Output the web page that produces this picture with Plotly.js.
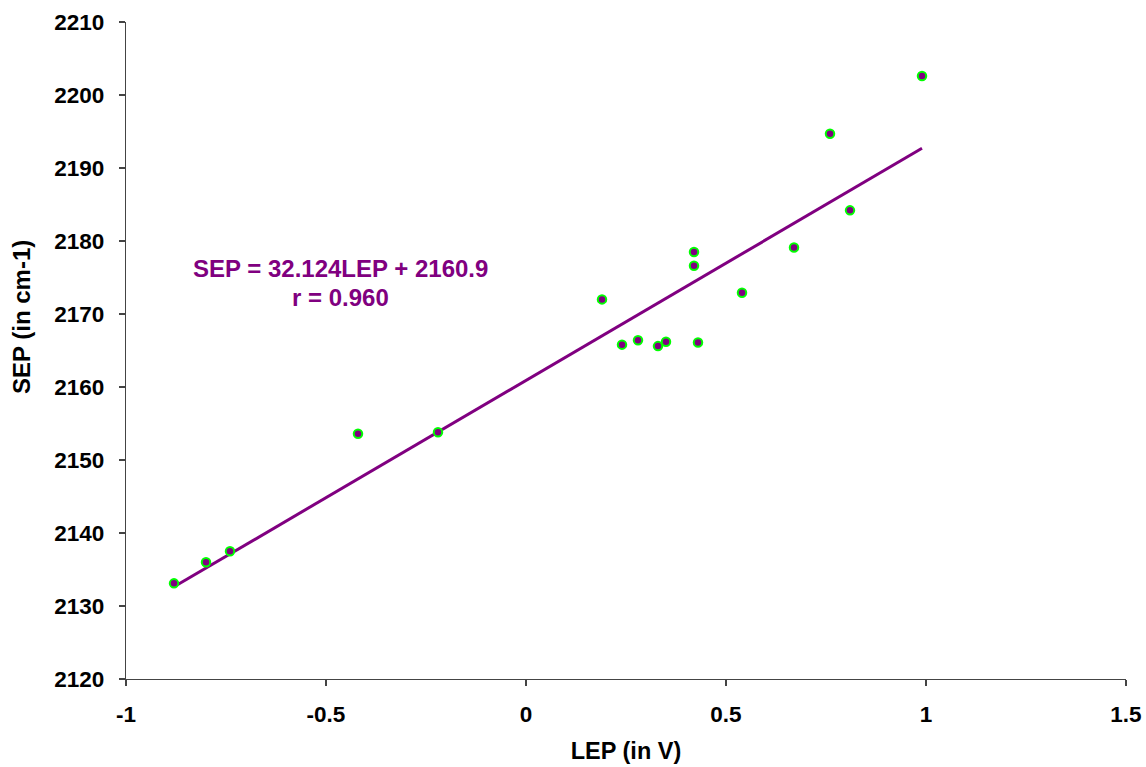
<!DOCTYPE html>
<html>
<head>
<meta charset="utf-8">
<script src="https://cdn.plot.ly/plotly-3.0.1.min.js"></script>
<style>html,body{margin:0;padding:0;background:#fff;}#chart{width:1146px;height:767px;}</style>
</head>
<body>
<div id="chart"></div>
<script>
const lep = [-0.88, -0.80, -0.74, -0.42, -0.22, 0.19, 0.24, 0.28, 0.33, 0.35, 0.42, 0.42, 0.43, 0.54, 0.67, 0.76, 0.81, 0.99];
const sep = [2133.1, 2136.0, 2137.5, 2153.6, 2153.8, 2172.0, 2165.8, 2166.4, 2165.6, 2166.2, 2178.5, 2176.6, 2166.1, 2172.9, 2179.1, 2194.7, 2184.2, 2202.6];
const fitSlope = 32.124;
const fitIntercept = 2160.9;
const fitX = [-0.88, 0.99];
const fitY = fitX.map(x => fitSlope * x + fitIntercept);
const xTicks = [-1, -0.5, 0, 0.5, 1, 1.5];
const xTickText = ['-1', '-0.5', '0', '0.5', '1', '1.5'];
const yTicks = [2120, 2130, 2140, 2150, 2160, 2170, 2180, 2190, 2200, 2210];

const font = 'Liberation Sans, Arial, sans-serif';
const traces = [
  {x: fitX, y: fitY, mode: 'lines', line: {color: '#800080', width: 3}, hoverinfo: 'skip', showlegend: false},
  {x: lep, y: sep, mode: 'markers', marker: {color: '#800080', size: 8.5, line: {color: '#00FF00', width: 2}}, showlegend: false}
];
const layout = {
  width: 1146, height: 767,
  margin: {l: 126, r: 20, t: 22, b: 88},
  paper_bgcolor: '#fff', plot_bgcolor: '#fff',
  font: {family: font, size: 22, color: '#000'},
  xaxis: {
    range: [-1, 1.5], tickvals: xTicks, ticktext: xTickText,
    showgrid: false, zeroline: false, showline: true, linecolor: '#444', linewidth: 1.3,
    ticks: 'outside', ticklen: 6, tickcolor: '#444', tickwidth: 1.3, ticklabelstandoff: 9,
    tickfont: {family: font, size: 22.5, color: '#000', weight: 'bold'},
    title: {text: '<b>LEP (in V)</b>', font: {family: font, size: 23.5, color: '#000'}, standoff: 16}
  },
  yaxis: {
    range: [2120, 2210], tickvals: yTicks,
    showgrid: false, zeroline: false, showline: true, linecolor: '#444', linewidth: 1.3,
    ticks: 'outside', ticklen: 6, tickcolor: '#444', tickwidth: 1.3, ticklabelstandoff: 10,
    tickfont: {family: font, size: 22.5, color: '#000', weight: 'bold'}
  },
  annotations: [
    {xref: 'paper', yref: 'paper', x: (21 - 126) / 1000, y: (679 - 317) / 657, text: '<b>SEP (in cm-1)</b>', textangle: -90, showarrow: false, font: {family: font, size: 24, color: '#000'}, xanchor: 'center', yanchor: 'middle'},
    {xref: 'paper', yref: 'paper', x: (340 - 126) / 1000, y: (679 - 268.5) / 657, text: '<b>SEP = 32.124LEP + 2160.9</b>', showarrow: false, font: {family: font, size: 24, color: '#800080'}, xanchor: 'center', yanchor: 'middle'},
    {xref: 'paper', yref: 'paper', x: (340 - 126) / 1000, y: (679 - 297) / 657, text: '<b>r = 0.960</b>', showarrow: false, font: {family: font, size: 24, color: '#800080'}, xanchor: 'center', yanchor: 'middle'}
  ]
};
Plotly.newPlot('chart', traces, layout, {displayModeBar: false, staticPlot: true});
</script>
</body>
</html>
